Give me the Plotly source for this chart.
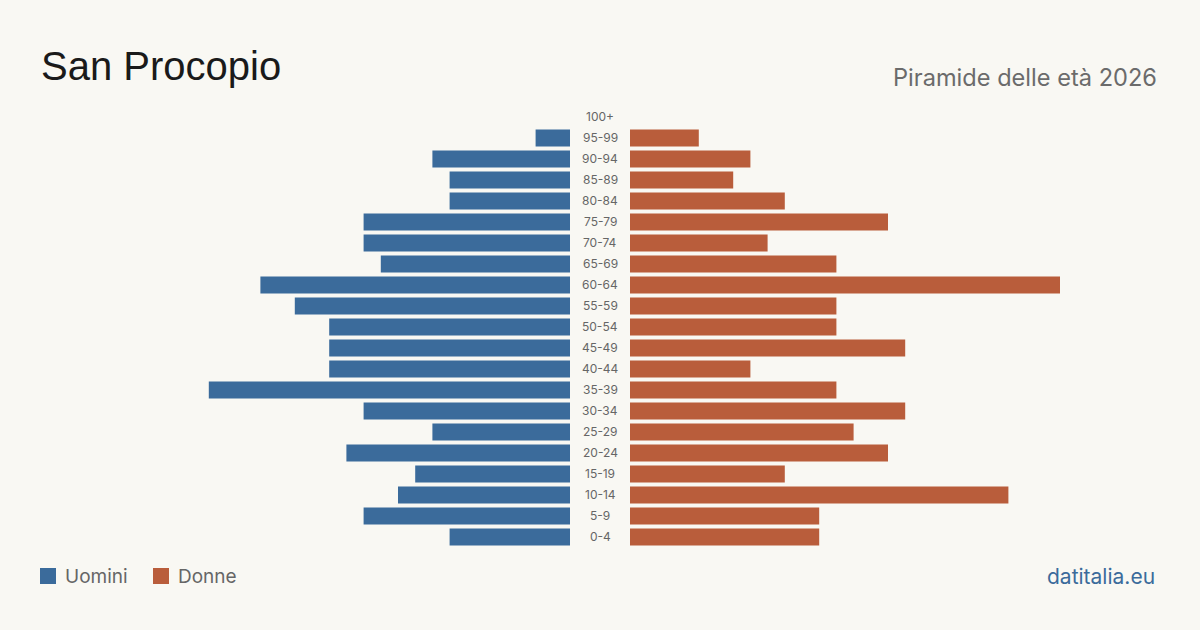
import plotly.graph_objects as go

age_groups = ["0-4", "5-9", "10-14", "15-19", "20-24", "25-29", "30-34", "35-39",
              "40-44", "45-49", "50-54", "55-59", "60-64", "65-69", "70-74", "75-79",
              "80-84", "85-89", "90-94", "95-99", "100+"]
men = [7, 12, 10, 9, 13, 8, 12, 21, 14, 14, 14, 16, 18, 11, 12, 12, 7, 7, 8, 2, 0]
women = [11, 11, 22, 9, 15, 13, 16, 12, 7, 16, 12, 12, 25, 12, 8, 15, 9, 6, 7, 4, 0]

title = "San Procopio"
subtitle = "Piramide delle età 2026"
source = "datitalia.eu"
men_label = "Uomini"
women_label = "Donne"

BLUE = "#3b6b9b"
ORANGE = "#b95d3b"
BG = "#f9f8f3"
FONT = "Inter, Noto Sans, sans-serif"

W, H = 1200, 630
xmax = 25
ytop, ybot = 106.5, 547.5

fig = go.Figure()
fig.add_trace(go.Bar(y=age_groups, x=men, orientation="h", marker_color=BLUE,
                     marker_line_width=0,
                     xaxis="x", yaxis="y", width=0.8, showlegend=False, hoverinfo="x+y"))
fig.add_trace(go.Bar(y=age_groups, x=women, orientation="h", marker_color=ORANGE,
                     marker_line_width=0,
                     xaxis="x2", yaxis="y", width=0.8, showlegend=False, hoverinfo="x+y"))

annotations = []
for ag in age_groups:
    annotations.append(dict(x=600 / W, y=ag, xref="paper", yref="y", text=ag,
                            showarrow=False, xanchor="center", yanchor="middle", yshift=0.5,
                            font=dict(family=FONT, size=12, color="#666666")))

annotations += [
    dict(x=39 / W, y=1 - 66 / H, xref="paper", yref="paper", text=title, showarrow=False,
         xanchor="left", yanchor="middle", font=dict(family="Liberation Sans, Arial, sans-serif", size=40, color="#1a1a1a")),
    dict(x=1159 / W, y=1 - 77 / H, xref="paper", yref="paper", text=subtitle, showarrow=False,
         xanchor="right", yanchor="middle", font=dict(family=FONT, size=23.6, color="#6b6b6b")),
    dict(x=63 / W, y=1 - 576 / H, xref="paper", yref="paper", text=men_label, showarrow=False,
         xanchor="left", yanchor="middle", font=dict(family=FONT, size=19, color="#666666")),
    dict(x=176 / W, y=1 - 576 / H, xref="paper", yref="paper", text=women_label, showarrow=False,
         xanchor="left", yanchor="middle", font=dict(family=FONT, size=19, color="#666666")),
    dict(x=1157 / W, y=1 - 576 / H, xref="paper", yref="paper", text=source, showarrow=False,
         xanchor="right", yanchor="middle", font=dict(family=FONT, size=21, color="#3b6b9b")),
]

shapes = [
    dict(type="rect", xref="paper", yref="paper", x0=40 / W, x1=56 / W,
         y0=1 - 584 / H, y1=1 - 568 / H, fillcolor=BLUE, line=dict(width=0)),
    dict(type="rect", xref="paper", yref="paper", x0=153 / W, x1=169 / W,
         y0=1 - 584 / H, y1=1 - 568 / H, fillcolor=ORANGE, line=dict(width=0)),
]

fig.update_layout(
    width=W, height=H,
    margin=dict(l=0, r=0, t=0, b=0),
    paper_bgcolor=BG, plot_bgcolor=BG,
    bargap=0.2,
    xaxis=dict(domain=[(570 - 430) / W, 570 / W], range=[xmax, 0], visible=False, fixedrange=True),
    xaxis2=dict(domain=[630 / W, (630 + 430) / W], range=[0, xmax], visible=False, fixedrange=True),
    yaxis=dict(domain=[1 - ybot / H, 1 - ytop / H], type="category", categoryorder="array",
               categoryarray=age_groups, range=[-0.5, len(age_groups) - 0.5], visible=False),
    annotations=annotations,
    shapes=shapes,
    showlegend=False,
)

fig.write_html("out.html")
